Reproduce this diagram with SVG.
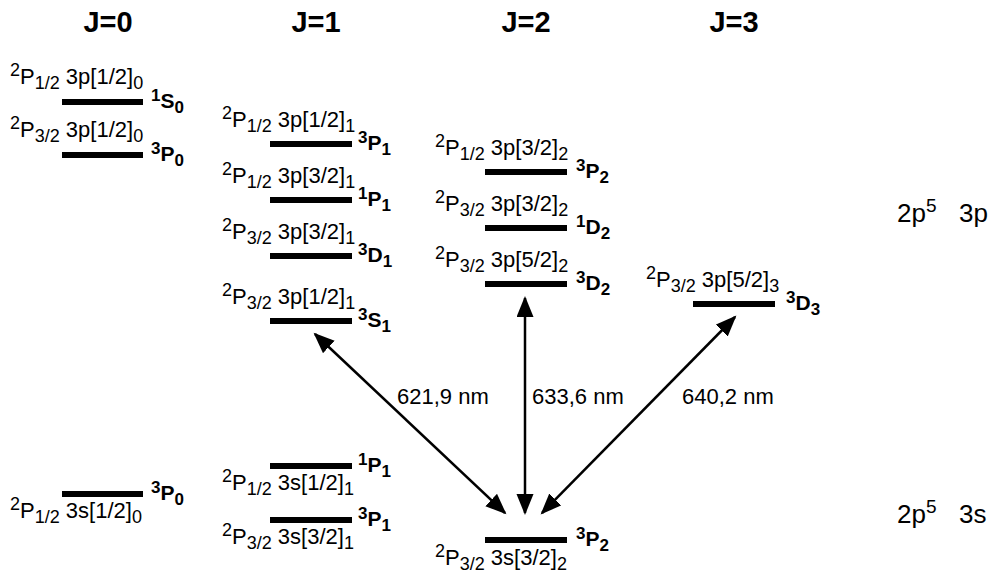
<svg xmlns="http://www.w3.org/2000/svg" width="989" height="578" viewBox="0 0 989 578">
<style>
.lvl{stroke:#000;stroke-width:6;}
.t{font-family:"Liberation Sans",Arial,Helvetica,sans-serif;font-size:22px;fill:#000;}
.s{font-size:18px;}
.term{font-family:"Liberation Sans",Arial,Helvetica,sans-serif;font-weight:bold;font-size:21px;fill:#000;}
.ts{font-size:17px;}
.hdr{font-family:"Liberation Sans",Arial,Helvetica,sans-serif;font-weight:bold;font-size:29px;text-anchor:middle;fill:#000;}
.cfg{font-family:"Liberation Sans",Arial,Helvetica,sans-serif;font-size:26px;fill:#000;}
.arr{stroke:#000;stroke-width:2.5;fill:none;marker-start:url(#ah);marker-end:url(#ah);}
</style>
<defs>
<marker id="ah" markerUnits="userSpaceOnUse" markerWidth="24" markerHeight="20" refX="19" refY="8.5" orient="auto-start-reverse" viewBox="0 0 24 20">
<path d="M0,0 L21,8.5 L0,17 z" fill="#000"/>
</marker>
</defs>
<rect width="989" height="578" fill="#fff"/>

<g id="headers">
<text class="hdr" x="108" y="32">J=0</text>
<text class="hdr" x="316" y="32">J=1</text>
<text class="hdr" x="526" y="32">J=2</text>
<text class="hdr" x="734" y="32">J=3</text>
</g>

<g id="config-3p"><text class="cfg" x="897" y="222">2p<tspan font-size="19" dy="-10">5</tspan><tspan dy="10" x="959">3p</tspan></text></g>
<g id="config-3s"><text class="cfg" x="897" y="523">2p<tspan font-size="19" dy="-10">5</tspan><tspan dy="10" x="959">3s</tspan></text></g>

<!-- 2p5 3p, J=0 -->
<g id="n-1S0">
<line class="lvl" x1="62" y1="102" x2="143" y2="102"/>
<text class="t" x="10" y="84"><tspan class="s" dy="-8">2</tspan><tspan dy="8">P</tspan><tspan class="s" dy="5">1/2</tspan><tspan dy="-5"> 3p[1/2]</tspan><tspan class="s" dy="5">0</tspan></text>
<text class="term" x="151" y="108"><tspan class="ts" dy="-7">1</tspan><tspan dy="7">S</tspan><tspan class="ts" dy="5">0</tspan></text>
</g>
<g id="n-3P0-3p">
<line class="lvl" x1="62" y1="155" x2="143" y2="155"/>
<text class="t" x="10" y="137"><tspan class="s" dy="-8">2</tspan><tspan dy="8">P</tspan><tspan class="s" dy="5">3/2</tspan><tspan dy="-5"> 3p[1/2]</tspan><tspan class="s" dy="5">0</tspan></text>
<text class="term" x="151" y="161"><tspan class="ts" dy="-7">3</tspan><tspan dy="7">P</tspan><tspan class="ts" dy="5">0</tspan></text>
</g>

<!-- J=1 -->
<g id="n-3P1-3p">
<line class="lvl" x1="270" y1="144" x2="352" y2="144"/>
<text class="t" x="222" y="127"><tspan class="s" dy="-8">2</tspan><tspan dy="8">P</tspan><tspan class="s" dy="5">1/2</tspan><tspan dy="-5"> 3p[1/2]</tspan><tspan class="s" dy="5">1</tspan></text>
<text class="term" x="358" y="150"><tspan class="ts" dy="-7">3</tspan><tspan dy="7">P</tspan><tspan class="ts" dy="5">1</tspan></text>
</g>
<g id="n-1P1-3p">
<line class="lvl" x1="270" y1="200" x2="352" y2="200"/>
<text class="t" x="222" y="183"><tspan class="s" dy="-8">2</tspan><tspan dy="8">P</tspan><tspan class="s" dy="5">1/2</tspan><tspan dy="-5"> 3p[3/2]</tspan><tspan class="s" dy="5">1</tspan></text>
<text class="term" x="358" y="206"><tspan class="ts" dy="-7">1</tspan><tspan dy="7">P</tspan><tspan class="ts" dy="5">1</tspan></text>
</g>
<g id="n-3D1">
<line class="lvl" x1="270" y1="256" x2="352" y2="256"/>
<text class="t" x="222" y="239"><tspan class="s" dy="-8">2</tspan><tspan dy="8">P</tspan><tspan class="s" dy="5">3/2</tspan><tspan dy="-5"> 3p[3/2]</tspan><tspan class="s" dy="5">1</tspan></text>
<text class="term" x="358" y="262"><tspan class="ts" dy="-7">3</tspan><tspan dy="7">D</tspan><tspan class="ts" dy="5">1</tspan></text>
</g>
<g id="n-3S1">
<line class="lvl" x1="270" y1="321" x2="352" y2="321"/>
<text class="t" x="222" y="304"><tspan class="s" dy="-8">2</tspan><tspan dy="8">P</tspan><tspan class="s" dy="5">3/2</tspan><tspan dy="-5"> 3p[1/2]</tspan><tspan class="s" dy="5">1</tspan></text>
<text class="term" x="358" y="327"><tspan class="ts" dy="-7">3</tspan><tspan dy="7">S</tspan><tspan class="ts" dy="5">1</tspan></text>
</g>

<!-- J=2 -->
<g id="n-3P2-3p">
<line class="lvl" x1="485" y1="172" x2="567" y2="172"/>
<text class="t" x="435" y="155"><tspan class="s" dy="-8">2</tspan><tspan dy="8">P</tspan><tspan class="s" dy="5">1/2</tspan><tspan dy="-5"> 3p[3/2]</tspan><tspan class="s" dy="5">2</tspan></text>
<text class="term" x="576" y="178"><tspan class="ts" dy="-7">3</tspan><tspan dy="7">P</tspan><tspan class="ts" dy="5">2</tspan></text>
</g>
<g id="n-1D2">
<line class="lvl" x1="485" y1="228" x2="567" y2="228"/>
<text class="t" x="435" y="211"><tspan class="s" dy="-8">2</tspan><tspan dy="8">P</tspan><tspan class="s" dy="5">3/2</tspan><tspan dy="-5"> 3p[3/2]</tspan><tspan class="s" dy="5">2</tspan></text>
<text class="term" x="576" y="234"><tspan class="ts" dy="-7">1</tspan><tspan dy="7">D</tspan><tspan class="ts" dy="5">2</tspan></text>
</g>
<g id="n-3D2">
<line class="lvl" x1="485" y1="284" x2="567" y2="284"/>
<text class="t" x="435" y="267"><tspan class="s" dy="-8">2</tspan><tspan dy="8">P</tspan><tspan class="s" dy="5">3/2</tspan><tspan dy="-5"> 3p[5/2]</tspan><tspan class="s" dy="5">2</tspan></text>
<text class="term" x="576" y="290"><tspan class="ts" dy="-7">3</tspan><tspan dy="7">D</tspan><tspan class="ts" dy="5">2</tspan></text>
</g>

<!-- J=3 -->
<g id="n-3D3">
<line class="lvl" x1="693" y1="304" x2="775" y2="304"/>
<text class="t" x="646" y="287"><tspan class="s" dy="-8">2</tspan><tspan dy="8">P</tspan><tspan class="s" dy="5">3/2</tspan><tspan dy="-5"> 3p[5/2]</tspan><tspan class="s" dy="5">3</tspan></text>
<text class="term" x="786" y="310"><tspan class="ts" dy="-7">3</tspan><tspan dy="7">D</tspan><tspan class="ts" dy="5">3</tspan></text>
</g>

<!-- 2p5 3s -->
<g id="n-3P0-3s">
<line class="lvl" x1="62" y1="494" x2="143" y2="494"/>
<text class="t" x="10" y="518"><tspan class="s" dy="-8">2</tspan><tspan dy="8">P</tspan><tspan class="s" dy="5">1/2</tspan><tspan dy="-5"> 3s[1/2]</tspan><tspan class="s" dy="5">0</tspan></text>
<text class="term" x="151" y="500"><tspan class="ts" dy="-7">3</tspan><tspan dy="7">P</tspan><tspan class="ts" dy="5">0</tspan></text>
</g>
<g id="n-1P1-3s">
<line class="lvl" x1="270" y1="466" x2="352" y2="466"/>
<text class="t" x="222" y="490"><tspan class="s" dy="-8">2</tspan><tspan dy="8">P</tspan><tspan class="s" dy="5">1/2</tspan><tspan dy="-5"> 3s[1/2]</tspan><tspan class="s" dy="5">1</tspan></text>
<text class="term" x="358" y="472"><tspan class="ts" dy="-7">1</tspan><tspan dy="7">P</tspan><tspan class="ts" dy="5">1</tspan></text>
</g>
<g id="n-3P1-3s">
<line class="lvl" x1="270" y1="520" x2="352" y2="520"/>
<text class="t" x="222" y="544"><tspan class="s" dy="-8">2</tspan><tspan dy="8">P</tspan><tspan class="s" dy="5">3/2</tspan><tspan dy="-5"> 3s[3/2]</tspan><tspan class="s" dy="5">1</tspan></text>
<text class="term" x="358" y="526"><tspan class="ts" dy="-7">3</tspan><tspan dy="7">P</tspan><tspan class="ts" dy="5">1</tspan></text>
</g>
<g id="n-3P2-3s">
<line class="lvl" x1="485" y1="540" x2="567" y2="540"/>
<text class="t" x="435" y="565"><tspan class="s" dy="-8">2</tspan><tspan dy="8">P</tspan><tspan class="s" dy="5">3/2</tspan><tspan dy="-5"> 3s[3/2]</tspan><tspan class="s" dy="5">2</tspan></text>
<text class="term" x="576" y="546"><tspan class="ts" dy="-7">3</tspan><tspan dy="7">P</tspan><tspan class="ts" dy="5">2</tspan></text>
</g>

<g id="connectors">
<line class="arr" x1="315" y1="334" x2="505" y2="513"/>
<line class="arr" x1="525" y1="298" x2="525" y2="513"/>
<line class="arr" x1="735" y1="317" x2="542" y2="513"/>
<text class="t" x="397" y="404">621,9 nm</text>
<text class="t" x="532" y="404">633,6 nm</text>
<text class="t" x="682" y="404">640,2 nm</text>
</g>
</svg>
